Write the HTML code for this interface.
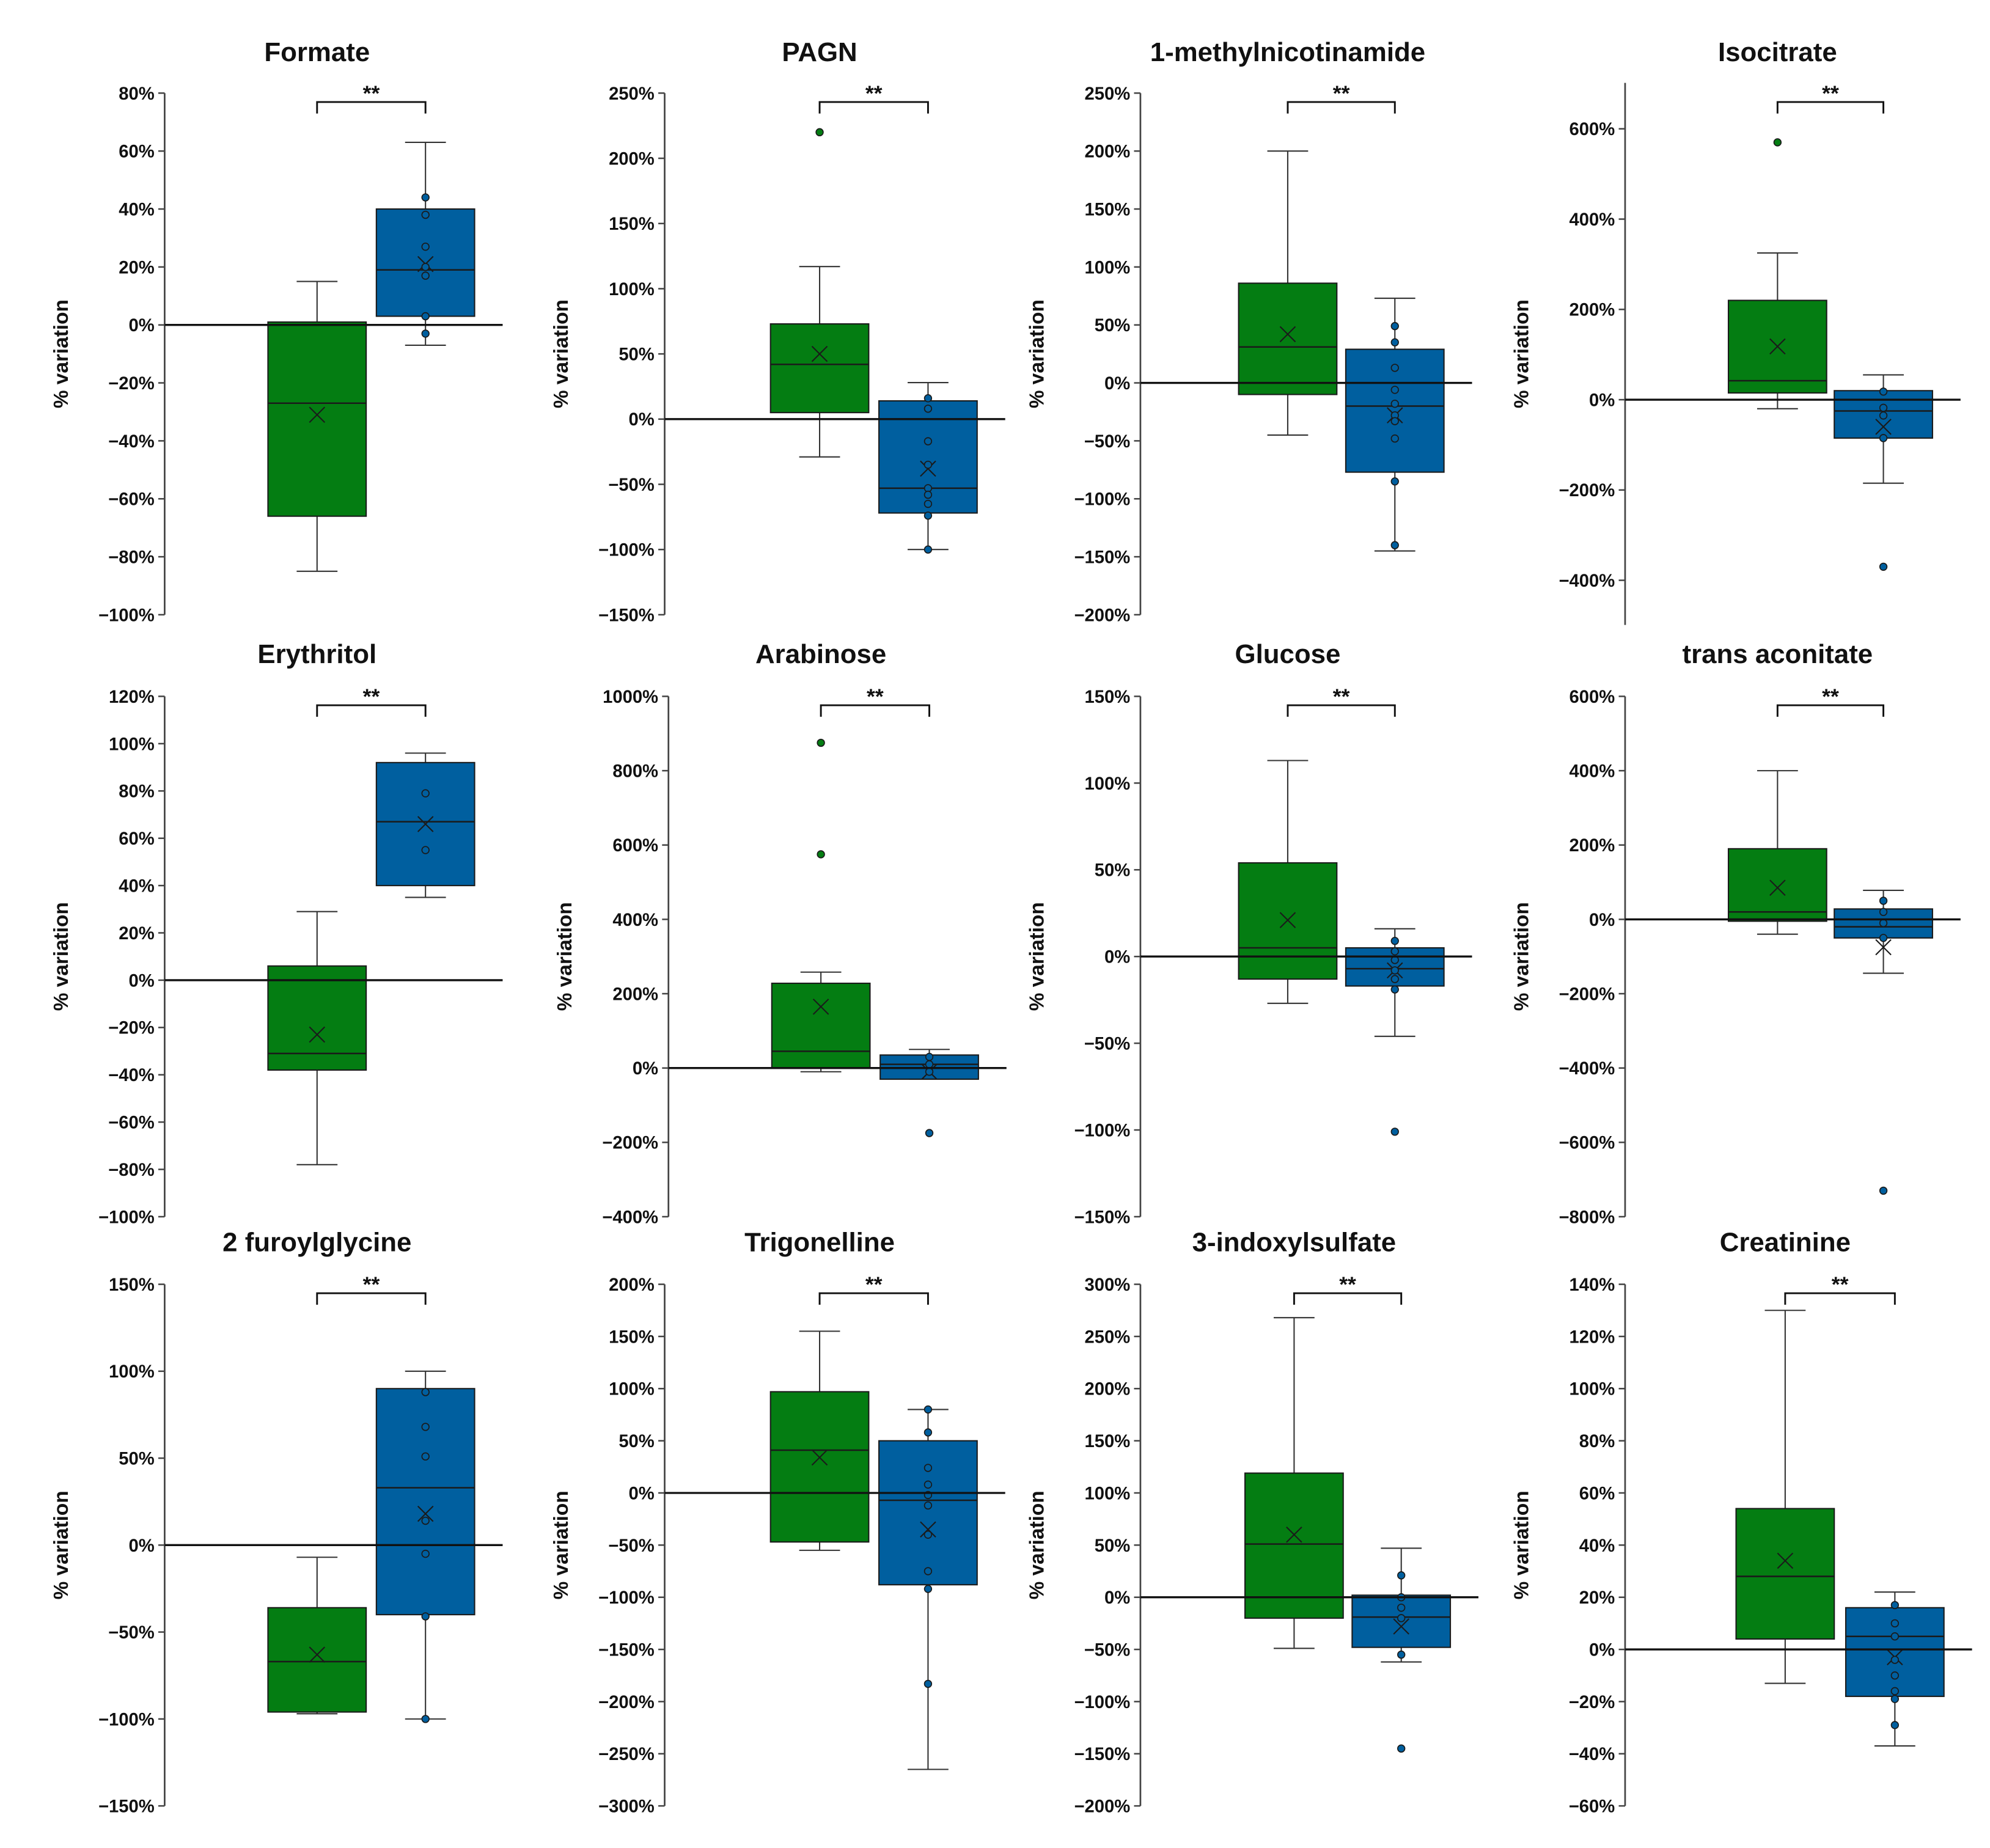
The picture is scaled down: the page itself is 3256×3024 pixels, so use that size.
<!DOCTYPE html>
<html><head><meta charset="utf-8"><style>
html,body{margin:0;padding:0;background:#fff;}
svg{display:block;}
text{font-family:"Liberation Sans",sans-serif;fill:#111;}
</style></head><body>
<svg id="chart" width="3256" height="3024" viewBox="0 0 1560 1449" xmlns="http://www.w3.org/2000/svg"></svg>
<script>
const names = ["Formate","PAGN","1-methylnicotinamide","Isocitrate","Erythritol","Arabinose","Glucose","trans aconitate","2 furoylglycine","Trigonelline","3-indoxylsulfate","Creatinine"];
const tickMax = [80,250,250,600,120,1000,150,600,150,200,300,140];
const tickMin = [-100,-150,-200,-400,-100,-400,-150,-800,-150,-300,-200,-60];
const tickStep = [20,50,50,200,20,200,50,200,50,50,50,20];
// [whiskerMin, q1, median, q3, whiskerMax, mean]
const greenStats = [
 [-85,-66,-27,1,15,-31],[-29,5,42,73,117,50],[-45,-10,31,86,200,42],[-20,15,42,220,325,118],
 [-78,-38,-31,6,29,-23],[-10,0,45,228,258,165],[-27,-13,5,54,113,21],[-40,-5,20,190,400,85],
 [-97,-96,-67,-36,-7,-63],[-55,-47,41,97,155,34],[-49,-20,51,119,268,60],[-13,4,28,54,130,34]];
const blueStats = [
 [-7,3,19,40,63,21],[-100,-72,-53,14,28,-38],[-145,-77,-20,29,73,-28],[-185,-85,-25,20,55,-60],
 [35,40,67,92,96,66],[-30,-30,10,35,50,-10],[-46,-17,-7,5,16,-8],[-145,-50,-20,28,78,-75],
 [-100,-40,33,90,100,18],[-265,-88,-7,50,80,-35],[-62,-48,-19,2,47,-28],[-37,-18,5,16,22,-3]];
const greenPoints = [[],[220],[],[570],[],[875,575],[],[],[],[],[],[]];
const bluePoints = [
 [44,38,27,20,17,3,-3],[16,8,-17,-35,-53,-58,-65,-74,-100],[49,35,13,-6,-18,-28,-33,-48,-85,-140],
 [18,-18,-35,-85,-370],[79,55],[30,10,-10,-175],[9,3,-2,-8,-13,-19,-101],[50,20,-10,-50,-730],
 [88,68,51,14,-5,-41,-100],[80,58,24,8,-2,-12,-40,-75,-92,-183],[21,0,-10,-20,-55,-145],[17,10,5,-4,-10,-16,-19,-29]];

const rowTop=[73,546,1007], rowBot=[482,954,1416], titleY=[48,520,981];
const axisXs=[[129,521,894,1274],[129,524,894,1274],[129,521,894,1274]];
const gLeft=[[210,604,971,1355],[210,605,971,1355],[210,604,976,1361]];
const bLeft=[[295,689,1055,1438],[295,690,1055,1438],[295,689,1060,1447]];
const BW=77;
const GREEN="#047d12", BLUE="#005f9f", EDGE="#1a1a1a";
const svg=document.getElementById('chart');
const NS="http://www.w3.org/2000/svg";
function mk(tag,attrs,parent){const e=document.createElementNS(NS,tag);for(const k in attrs)e.setAttribute(k,attrs[k]);parent.appendChild(e);return e;}
function fmt(v){return (v<0?"\u2212"+(-v):v)+"%";}

for(let i=0;i<12;i++){
  const r=Math.floor(i/4), c=i%4;
  const g=mk('g',{},svg);
  
  
  const ax=axisXs[r][c], top=rowTop[r], bot=rowBot[r];
  const ymax=tickMax[i], ymin=tickMin[i];
  let y0=top, y1=bot, axTop=top, axBot=bot;
  if(i===3){y0=101;y1=455;axTop=65;axBot=490;}
  const Y=v=>y0+(ymax-v)/(ymax-ymin)*(y1-y0);
  const gx=gLeft[r][c], bx=bLeft[r][c];
  const gc=gx+BW/2, bc=bx+BW/2;
  const t=mk('text',{x:gc,y:titleY[r],'font-size':21,'font-weight':'bold','text-anchor':'middle'},g);
  t.textContent=names[i];
  
  
  const yl=mk('text',{x:0,y:0,'font-size':16,'font-weight':'bold','text-anchor':'middle',transform:`translate(${ax-76},${(axTop+axBot)/2}) rotate(-90)`},g);
  yl.textContent="% variation";
  
  
  const axl=mk('line',{x1:ax,y1:axTop,x2:ax,y2:axBot,stroke:'#444','stroke-width':1.3},g);
  
  
  for(let v=ymax;v>=ymin-1e-9;v-=tickStep[i]){
    const y=Y(v);
    mk('line',{x1:ax-5,y1:y,x2:ax,y2:y,stroke:'#444','stroke-width':1.2},g);
    const tl=mk('text',{x:ax-8,y:y+5,'font-size':14,'font-weight':'bold','text-anchor':'end'},g);
    tl.textContent=fmt(v);
    
    
  }
  function box(st,left,color,pts,nm){
    const cx=left+BW/2;
    const bg=mk('g',{},g);
    
    
    mk('line',{x1:cx,y1:Y(st[4]),x2:cx,y2:Y(st[3]),stroke:'#333','stroke-width':1},bg);
    mk('line',{x1:cx,y1:Y(st[0]),x2:cx,y2:Y(st[1]),stroke:'#333','stroke-width':1},bg);
    mk('line',{x1:cx-16,y1:Y(st[4]),x2:cx+16,y2:Y(st[4]),stroke:'#333','stroke-width':1},bg);
    mk('line',{x1:cx-16,y1:Y(st[0]),x2:cx+16,y2:Y(st[0]),stroke:'#333','stroke-width':1},bg);
    mk('rect',{x:left,y:Y(st[3]),width:BW,height:Y(st[1])-Y(st[3]),fill:color,stroke:EDGE,'stroke-width':1},bg);
    mk('line',{x1:left,y1:Y(st[2]),x2:left+BW,y2:Y(st[2]),stroke:EDGE,'stroke-width':1.2},bg);
    const my=Y(st[5]);
    mk('path',{d:`M${cx-6} ${my-6}L${cx+6} ${my+6}M${cx+6} ${my-6}L${cx-6} ${my+6}`,stroke:EDGE,'stroke-width':1,fill:'none'},bg);
    pts.forEach(p=>{mk('circle',{cx:cx,cy:Y(p),r:2.8,fill:color,stroke:EDGE,'stroke-width':0.8},bg);});
  }
  box(greenStats[i],gx,GREEN,greenPoints[i],'green-box');
  box(blueStats[i],bx,BLUE,bluePoints[i],'blue-box');
  const zl=mk('line',{x1:ax,y1:Y(0),x2:bx+BW+22,y2:Y(0),stroke:'#111','stroke-width':1.6},g);
  
  
  const by=top+7;
  const br=mk('path',{d:`M${gc} ${by+9}L${gc} ${by}L${bc} ${by}L${bc} ${by+9}`,stroke:'#111','stroke-width':1.4,fill:'none'},g);
  
  
  const st=mk('text',{x:(gc+bc)/2,y:by-1,'font-size':17,'font-weight':'bold','text-anchor':'middle'},g);
  st.textContent="**";
  
  
}
</script>
</body></html>
